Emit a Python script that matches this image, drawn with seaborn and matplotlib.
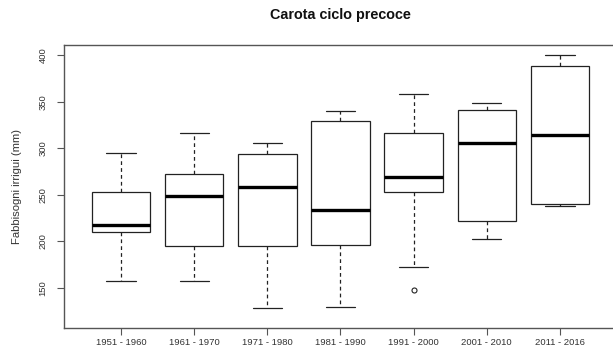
import matplotlib
matplotlib.use("Agg")
import matplotlib.pyplot as plt
import seaborn as sns
import pandas as pd

# Decades and the five-number summaries of irrigation needs (mm)
periods = ["1951 - 1960", "1961 - 1970", "1971 - 1980", "1981 - 1990",
           "1991 - 2000", "2001 - 2010", "2011 - 2016"]
whisker_low = [157, 158, 129, 130, 172, 203, 238]
q1 = [210, 195, 195, 196.5, 252.7, 222, 240]
median = [218, 249, 258, 234, 269, 306, 314.5]
q3 = [253, 272, 294, 329, 317, 341, 388.6]
whisker_high = [295, 317, 306, 340, 358.5, 349, 400]
outliers = [[], [], [], [], [148], [], []]
yticks = [150, 200, 250, 300, 350, 400]

# Build a nine-value sample per decade whose quartiles, whiskers and
# outliers reproduce the summaries above with the default 1.5*IQR rule
rows = []
for p, lo, a, m, b, hi, out in zip(periods, whisker_low, q1, median, q3,
                                    whisker_high, outliers):
    sample = [lo, lo, a, a, m, b, b, hi, hi]
    for i, o in enumerate(out):
        sample[i] = o
    rows += [(p, v) for v in sample]
df = pd.DataFrame(rows, columns=["period", "value"])

sns.set_theme(style="white")
plt.rcParams["font.family"] = ["Liberation Sans", "DejaVu Sans"]

W, H = 613, 354
fig = plt.figure(figsize=(W / 100, H / 100), dpi=100)
ax = fig.add_axes([64 / W, 1 - 328 / H, (617 - 64) / W, (328 - 45) / H])

edge = "#222222"
sns.boxplot(
    data=df, x="period", y="value", order=periods, ax=ax,
    width=0.8, color="white", linecolor=edge, linewidth=0.9,
    whis=1.5, capwidths=0.4,
    medianprops=dict(color="black", linewidth=2.4),
    whiskerprops=dict(linestyle=(0, (3, 2.5))),
    flierprops=dict(marker="o", markersize=3.6, markerfacecolor="none",
                    markeredgecolor=edge, markeredgewidth=0.8),
)

ax.set_xlim(-0.78, 6.78)
ax.set_ylim(107, 411)
ax.set_yticks(yticks)
ax.set_yticklabels([str(t) for t in yticks], rotation=90, va="center")
ax.set_xlabel("")
ax.set_ylabel("Fabbisogni irrigui (mm)", fontsize=8.1, color="#333333",
              labelpad=12)

for s in ax.spines.values():
    s.set_visible(True)
    s.set_color("#555555")
    s.set_linewidth(1.0)

ax.tick_params(axis="both", direction="out", length=5, width=0.8,
               color="#555555", labelcolor="#333333", labelsize=6.8)
ax.tick_params(axis="x", pad=2.5, bottom=True)
ax.tick_params(axis="y", pad=7, left=True)

fig.text((64 + 617) / 2 / W, 1 - 15 / H, "Carota ciclo precoce",
         ha="center", va="center", fontsize=10.4, fontweight="bold",
         color="#111111")

fig.savefig("out.png", dpi=100, facecolor="white")
